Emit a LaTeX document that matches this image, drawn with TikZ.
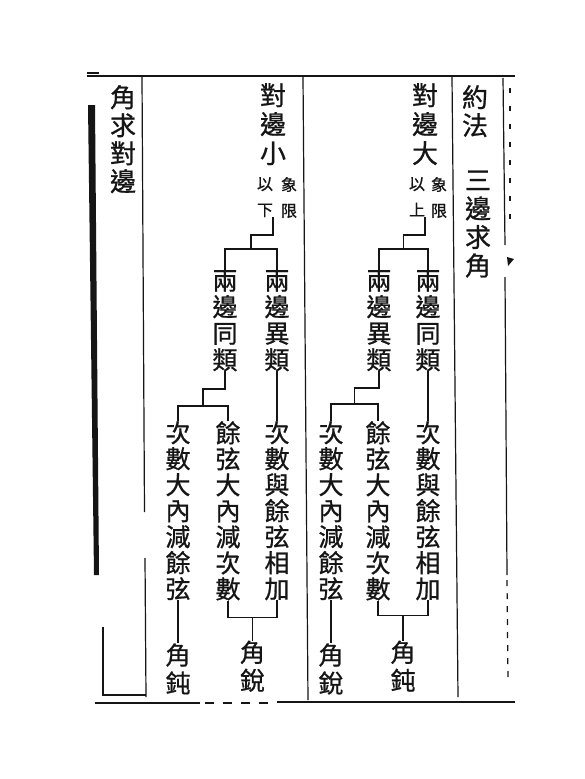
\documentclass[tikz,border=0pt]{standalone}
\usepackage{fontspec}
\usepackage{tikz}
\usetikzlibrary{positioning,calc}
\newfontfamily\cjk[FakeBold=0.8]{Noto Sans CJK TC}
\definecolor{ink}{HTML}{151515}
\tikzset{
  head/.style={font=\cjk\fontsize{26}{29}\selectfont, align=center, inner sep=0pt, anchor=north, text=ink},
  note/.style={font=\cjk\fontsize{16}{26}\selectfont, align=center, inner sep=0pt, anchor=north, text=ink},
  leaf/.style={font=\cjk\fontsize{25}{#1}\selectfont, align=center, inner sep=0pt, anchor=north, text=ink},
  leaf/.default=26,
  tie/.style={line width=1.3pt, ink},
  rule/.style={line width=1.2pt, ink},
  sheet/.style={line width=2.4pt, ink},
}

\begin{document}
\begin{tikzpicture}[x=1pt, y=-1pt]
  \fill[white] (0,0) rectangle (585,779);
  \useasboundingbox (0,0) rectangle (585,779);
  % page frame
  \draw[sheet] (87,76) -- (515,76);
  \draw[rule] (87,73) -- (99,73);
  \draw[sheet] (95,703) -- (200,703); \draw[sheet] (277,702) -- (515,702);
  \draw[rule, dash pattern=on 9pt off 9pt] (205,703) -- (275,703);
  \draw[rule] (142,77) -- (144.5,512); \draw[rule] (145,558) -- (146,697);
  \draw[rule] (303,77) -- (308,700);
  \draw[rule] (452,77) -- (458,697);
  \draw[rule] (503,78) -- (505,245); \draw[rule] (505,277) -- (507,575);
  \draw[rule, dash pattern=on 6pt off 7pt] (507,580) -- (508,680);
  \draw[rule, line width=1.6pt, dash pattern=on 5pt off 13pt] (510,88) -- (510,225);
  \fill[ink] (507,257) -- (514,259) -- (508,266) -- cycle;
  \draw[rule] (103,627) -- (103,695) -- (146,695);
  \fill[ink] (88,105) -- (95,105) -- (99,575) -- (94,575) -- cycle;

  \node[head, font=\cjk\fontsize{26}{28}\selectfont] (qd) at (123,85) {角\\求\\對\\邊};
  \node[head] (hdB) at (273,83) {對\\邊\\小};
  \node[head] (hdA) at (425,83) {對\\邊\\大};
  \node[head, font=\cjk\fontsize{26}{28}\selectfont] (yf) at (475,85) {約\\法};
  \node[head, font=\cjk\fontsize{26}{28.5}\selectfont, below=33pt of yf, xshift=3pt] (sq) {三\\邊\\求\\角};

  \node[note] (xA) at (439,177) {象\\限};
  \node[note] (yA) at (417,177) {以\\上};
  \node[note] (xB) at (289,177) {象\\限};
  \node[note] (yB) at (265,177) {以\\下};

  \node[leaf=26.5] (bA2) at (428,270) {兩\\邊\\同\\類};
  \node[leaf=26.5] (bA1) at (379,270) {兩\\邊\\異\\類};
  \node[leaf=26.5] (bB2) at (277,270) {兩\\邊\\異\\類};
  \node[leaf=26.5] (bB1) at (225,270) {兩\\邊\\同\\類};

  \node[leaf] (cA3) at (428,421) {次\\數\\與\\餘\\弦\\相\\加};
  \node[leaf] (cA2) at (378,421) {餘\\弦\\大\\內\\減\\次\\數};
  \node[leaf] (cA1) at (331,421) {次\\數\\大\\內\\減\\餘\\弦};
  \node[leaf] (cB3) at (277,421) {次\\數\\與\\餘\\弦\\相\\加};
  \node[leaf] (cB2) at (228,421) {餘\\弦\\大\\內\\減\\次\\數};
  \node[leaf] (cB1) at (178,421) {次\\數\\大\\內\\減\\餘\\弦};

  \coordinate (jA) at ($(bA1.north)!.5!(bA2.north)+(0,-21)$);
  \coordinate (jB) at ($(bB1.north)!.5!(bB2.north)+(0,-21)$);
  \coordinate (mA) at ($(cA1.north)!.5!(cA2.north)+(0,-17)$);
  \coordinate (mB) at ($(cB1.north)!.5!(cB2.north)+(0,-15)$);
  \coordinate (nA) at ($(cA2.south)!.5!(cA3.south)+(0,15)$);
  \coordinate (nB) at ($(cB2.south)!.5!(cB3.south)+(0,17)$);

  \node[leaf=28, below=43pt of cA1] (kA1) {角\\銳};
  \node[leaf=28, below=25pt of nA] (kA2) {角\\鈍};
  \node[leaf=28, below=43pt of cB1] (kB1) {角\\鈍};
  \node[leaf=28, below=23pt of nB] (kB2) {角\\銳};

  \draw[tie] (hdA.south |- yA.south) |- ($(jA)+(0,-14)$) -- (jA);
  \draw[tie] (bA1.north) |- (jA) -| (bA2.north);
  \draw[tie] (bA1.south) |- ($(mA)+(0,-16)$) -- (mA);
  \draw[tie] (cA1.north) |- (mA) -| (cA2.north);
  \draw[tie] (bA2.south) -- (cA3.north);
  \draw[tie] (cA1.south) -- (kA1);
  \draw[tie] (cA2.south) |- (nA) -| (cA3.south);
  \draw[tie] (nA) -- (kA2);

  \draw[tie] (hdB.south |- yB.south) |- ($(jB)+(0,-14)$) -- (jB);
  \draw[tie] (bB1.north) |- (jB) -| (bB2.north);
  \draw[tie] (bB1.south) |- ($(mB)+(0,-17)$) -- (mB);
  \draw[tie] (cB1.north) |- (mB) -| (cB2.north);
  \draw[tie] (bB2.south) -- (cB3.north);
  \draw[tie] (cB1.south) -- (kB1);
  \draw[tie] (cB2.south) |- (nB) -| (cB3.south);
  \draw[tie] (nB) -- (kB2);
\end{tikzpicture}
\end{document}
